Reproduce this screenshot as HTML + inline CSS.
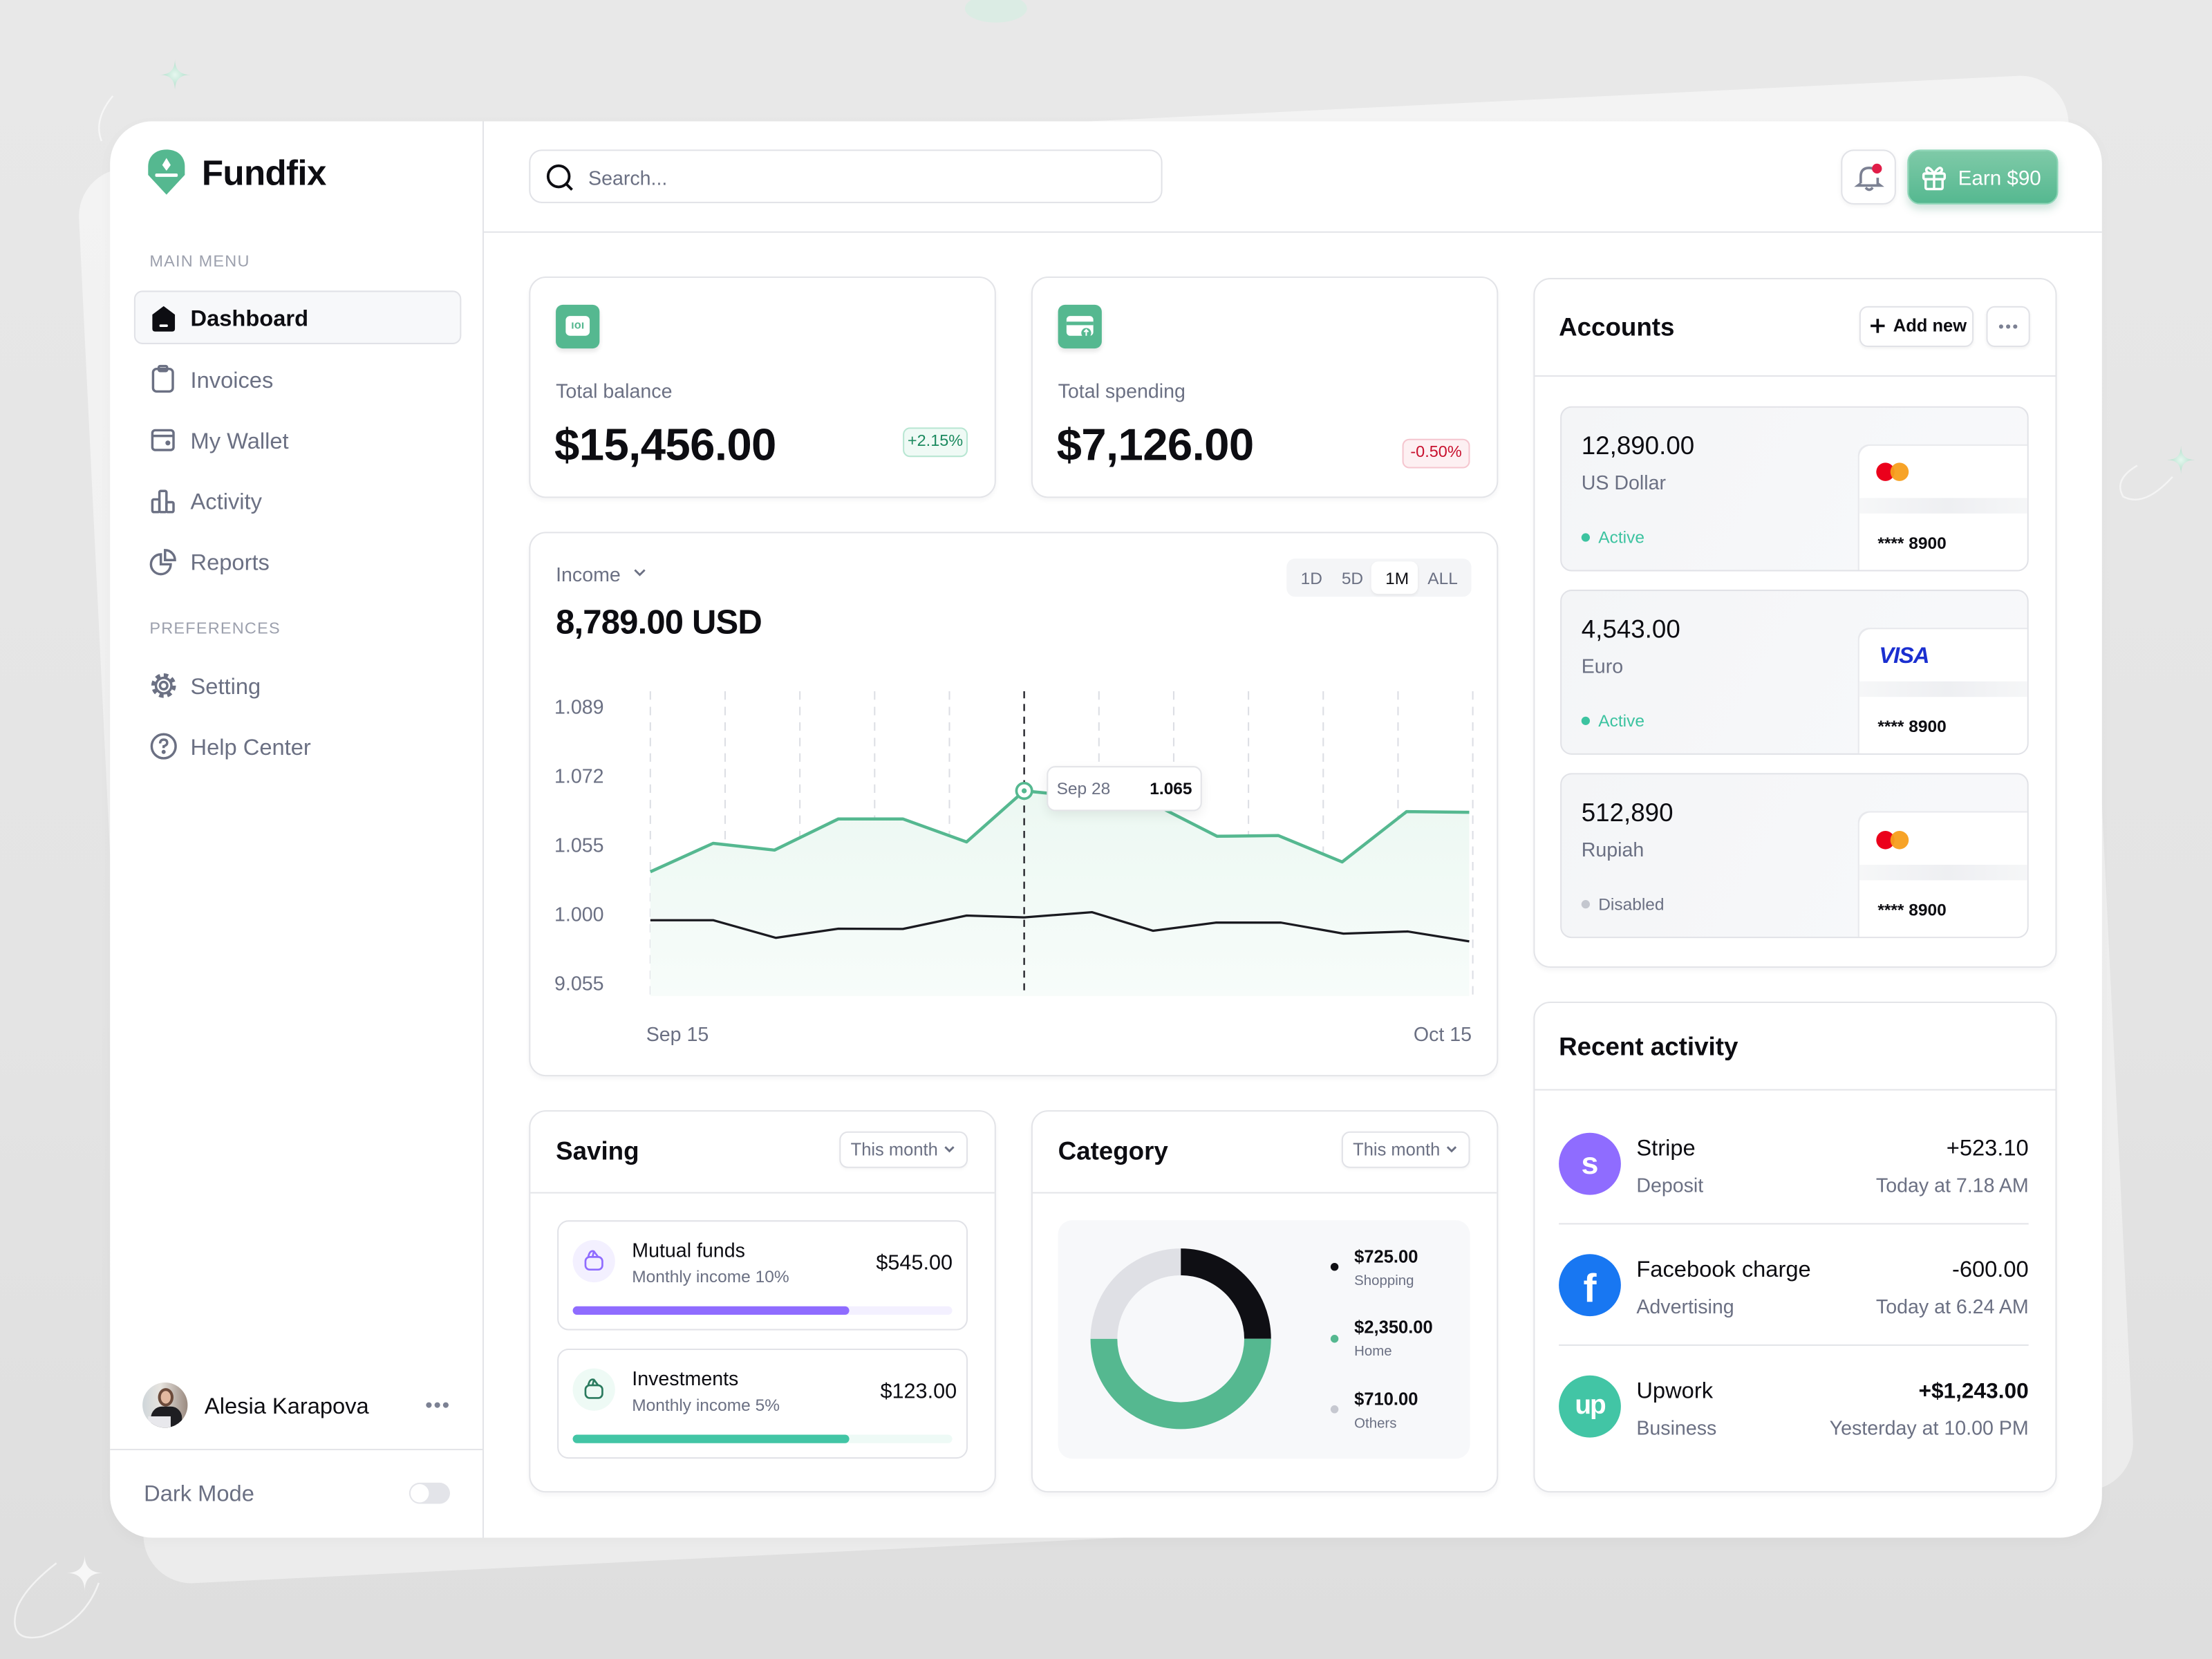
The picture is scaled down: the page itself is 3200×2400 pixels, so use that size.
<!DOCTYPE html>
<html><head><meta charset="utf-8">
<style>
html,body{margin:0;padding:0;width:3200px;height:2400px;overflow:hidden;background:linear-gradient(180deg,#e8e8e8 0%,#e4e4e4 60%,#dedede 100%);}
#w{position:absolute;left:0;top:0;width:1568px;height:1176px;transform:scale(2.040816);transform-origin:0 0;font-family:"Liberation Sans",Arial,sans-serif;color:#0d0d12;}
.a{position:absolute;}
.t{position:absolute;white-space:nowrap;line-height:1;}
.g{color:#6b7083;}
.card{position:absolute;background:#fff;border:1px solid #e3e4e8;border-radius:12px;box-sizing:border-box;box-shadow:0 2px 3px rgba(20,20,40,.04);}
.b{font-weight:bold;}
.dot{position:absolute;width:3px;height:3px;border-radius:50%;background:#7c8193;}
</style></head><body>
<div id="w">
<!-- back card -->
<div class="a" style="left:78px;top:86px;width:1412px;height:1004px;border-radius:34px;background:linear-gradient(180deg,#f3f3f3 0%,#ececec 100%);transform:rotate(-2.8deg);"></div>
<!-- decorations -->
<svg class="a" style="left:0;top:0" width="1568" height="1176">
 <defs><radialGradient id="sp" cx="50%" cy="50%" r="50%"><stop offset="0" stop-color="#e6f7ef"/><stop offset="1" stop-color="#a9dcc6"/></radialGradient></defs>
 <path d="M124 42 Q124 53 135 53 Q124 53 124 64 Q124 53 113 53 Q124 53 124 42Z" fill="url(#sp)"/>
 <path d="M80 68 Q66 85 72 100" stroke="#f6f6f6" stroke-width="1.2" fill="none"/>
 <path d="M1546 316 Q1546 326 1556 326 Q1546 326 1546 336 Q1546 326 1536 326 Q1546 326 1546 316Z" fill="url(#sp)"/>
 <path d="M1540 338 Q1520 360 1505 352 Q1498 340 1515 330" stroke="#f4f4f4" stroke-width="1.2" fill="none"/>
 <path d="M60 1102 Q60 1115 73 1115 Q60 1115 60 1128 Q60 1115 47 1115 Q60 1115 60 1102Z" fill="#f7f7f7"/>
 <path d="M70 1122 Q60 1150 30 1160 Q5 1165 12 1140 Q18 1125 40 1108" stroke="#f3f3f3" stroke-width="1.2" fill="none"/>
 <ellipse cx="706" cy="6" rx="22" ry="10" fill="#d6eee3" opacity=".7"/>
</svg>
<!-- main card -->
<div class="a" style="left:78px;top:86px;width:1412px;height:1004px;background:#fff;border-radius:30px;box-shadow:0 3px 10px rgba(0,0,0,.03);"></div>
<div class="a" style="left:342px;top:86px;width:1px;height:1004px;background:#e3e4e8"></div>
<div class="a" style="left:343px;top:164px;width:1147px;height:1px;background:#e3e4e8"></div>
<div class="a" style="left:78px;top:1027px;width:264px;height:1px;background:#e3e4e8"></div>

<!-- logo -->
<svg class="a" style="left:101px;top:104px" width="34" height="36" viewBox="0 0 34 36">
 <path d="M17 2 C9 2 4 7 4 14 L4 20 L17 34 L30 20 L30 14 C30 7 25 2 17 2Z" fill="#55b890"/>
 <path d="M17 8 L20 13 L17 17 L14 13Z" fill="#fff"/>
 <rect x="9" y="19" width="16" height="2.4" rx="1" fill="#fff"/>
</svg>
<div class="t b" style="left:143px;top:111px;font-size:25px;letter-spacing:-0.3px">Fundfix</div>

<div class="t" style="left:106px;top:181px;font-size:11.5px;color:#9ca0ad;letter-spacing:.6px">MAIN MENU</div>
<div class="a" style="left:95px;top:206px;width:232px;height:38px;box-sizing:border-box;background:#f7f8fa;border:1px solid #e1e2e7;border-radius:6px"></div>
<svg class="a" style="left:106px;top:216px" width="20" height="20" viewBox="0 0 20 20"><path d="M10 1 L18 7 L18 17 Q18 19 16 19 L4 19 Q2 19 2 17 L2 7Z" fill="#0d0d12"/><rect x="7" y="14" width="6" height="1.8" rx=".8" fill="#fff"/></svg>
<div class="t b" style="left:135px;top:219px;font-size:16px">Dashboard</div>

<svg class="a" style="left:106px;top:258px" width="20" height="22" viewBox="0 0 20 22" fill="none" stroke="#6b7083" stroke-width="1.7"><rect x="2.5" y="3.5" width="14" height="16" rx="2.5"/><rect x="6.5" y="1.5" width="6" height="3.5" rx="1"/></svg>
<div class="t g" style="left:135px;top:263px;font-size:16px">Invoices</div>
<svg class="a" style="left:106px;top:302px" width="20" height="20" viewBox="0 0 20 20" fill="none" stroke="#6b7083" stroke-width="1.7"><rect x="2" y="3" width="15" height="14" rx="2"/><path d="M2 7 H17"/><circle cx="13" cy="12" r=".9" fill="#6b7083"/></svg>
<div class="t g" style="left:135px;top:306px;font-size:16px">My Wallet</div>
<svg class="a" style="left:106px;top:345px" width="20" height="20" viewBox="0 0 20 20" fill="none" stroke="#6b7083" stroke-width="1.7"><rect x="2" y="9" width="5" height="9" rx="1"/><rect x="7" y="3" width="5" height="15" rx="1"/><rect x="12" y="11" width="5" height="7" rx="1"/></svg>
<div class="t g" style="left:135px;top:349px;font-size:16px">Activity</div>
<svg class="a" style="left:105px;top:388px" width="22" height="20" viewBox="0 0 22 20" fill="none" stroke="#6b7083" stroke-width="1.7"><path d="M9 5 A7 7 0 1 0 16 12 L9 12Z"/><path d="M12 2 A7 7 0 0 1 19 9 L12 9Z"/></svg>
<div class="t g" style="left:135px;top:392px;font-size:16px">Reports</div>

<div class="t" style="left:106px;top:441px;font-size:11.5px;color:#9ca0ad;letter-spacing:.6px">PREFERENCES</div>
<svg class="a" style="left:105px;top:475px" width="22" height="22" viewBox="0 0 22 22" fill="none" stroke="#6b7083" stroke-width="1.7"><circle cx="11" cy="11" r="7" stroke-dasharray="3 2.5" stroke-width="3.5"/><circle cx="11" cy="11" r="5.5"/><circle cx="11" cy="11" r="2.6"/></svg>
<div class="t g" style="left:135px;top:480px;font-size:16px">Setting</div>
<svg class="a" style="left:105px;top:518px" width="22" height="22" viewBox="0 0 22 22" fill="none" stroke="#6b7083" stroke-width="1.7"><circle cx="11" cy="11" r="8.5"/><path d="M8.5 9 Q8.5 6.3 11 6.3 Q13.5 6.3 13.5 8.6 Q13.5 10.2 11 11 L11 12.3"/><circle cx="11" cy="15" r=".6" fill="#6b7083"/></svg>
<div class="t g" style="left:135px;top:523px;font-size:16px">Help Center</div>

<!-- user -->
<div class="a" style="left:101px;top:980px;width:32px;height:32px;border-radius:50%;overflow:hidden;background:linear-gradient(90deg,#cfd6da 0%,#e7e4df 40%,#9a8a80 100%)">
 <div class="a" style="left:11px;top:4px;width:11px;height:13px;border-radius:50%;background:#6b4a3a"></div>
 <div class="a" style="left:13px;top:6px;width:7px;height:9px;border-radius:50%;background:#e2b9a0"></div>
 <div class="a" style="left:6px;top:17px;width:22px;height:18px;border-radius:8px 8px 0 0;background:#1e1e22"></div>
 <div class="a" style="left:4px;top:24px;width:16px;height:10px;background:#e8e8ec"></div>
</div>
<div class="t" style="left:145px;top:990px;font-size:16px">Alesia Karapova</div>
<div class="dot" style="left:302px;top:994px;width:4px;height:4px"></div>
<div class="dot" style="left:308px;top:994px;width:4px;height:4px"></div>
<div class="dot" style="left:314px;top:994px;width:4px;height:4px"></div>
<div class="t g" style="left:102px;top:1052px;font-size:16px">Dark Mode</div>
<div class="a" style="left:290px;top:1051px;width:29px;height:15px;border-radius:8px;background:#e3e4e9"></div>
<div class="a" style="left:291px;top:1052px;width:13px;height:13px;border-radius:50%;background:#fff"></div>

<!-- header -->
<div class="a" style="left:375px;top:106px;width:449px;height:38px;box-sizing:border-box;border:1px solid #e1e2e7;border-radius:9px"></div>
<svg class="a" style="left:386px;top:115px" width="22" height="22" viewBox="0 0 22 22" fill="none" stroke="#0d0d12" stroke-width="1.9"><circle cx="10" cy="10" r="7.5"/><path d="M15.5 15.5 L19.5 19.5"/></svg>
<div class="t g" style="left:417px;top:119px;font-size:14px">Search...</div>

<div class="a" style="left:1305px;top:106px;width:39px;height:39px;box-sizing:border-box;border:1px solid #e1e2e7;border-radius:9px;box-shadow:0 1px 3px rgba(0,0,0,.05)"></div>
<svg class="a" style="left:1313px;top:114px" width="24" height="24" viewBox="0 0 24 24" fill="none" stroke="#7c8193" stroke-width="1.8"><path d="M6 16 L6 11 Q6 5 12 5 Q15 5 16.5 7"/><path d="M18 12 L18 16 L20 17.5 L4 17.5 L6 16"/><path d="M9.5 19 Q12 22 14.5 19"/></svg>
<div class="a" style="left:1327px;top:116px;width:7px;height:7px;border-radius:50%;background:#e11d48"></div>
<div class="a" style="left:1352px;top:106px;width:107px;height:39px;box-sizing:border-box;border-radius:9px;background:linear-gradient(180deg,#7fcaa8,#55b890);border:1px solid #8fd6b8;box-shadow:0 3px 6px rgba(60,140,110,.25)"></div>
<svg class="a" style="left:1361px;top:116px" width="20" height="20" viewBox="0 0 20 20" fill="none" stroke="#fff" stroke-width="1.7"><rect x="2.5" y="7" width="15" height="4" rx="1"/><rect x="4" y="11" width="12" height="7" rx="1"/><path d="M10 7 V18"/><path d="M10 7 Q6 1 4.5 4 Q4 7 10 7 Q16 7 15.5 4 Q14 1 10 7"/></svg>
<div class="t" style="left:1388px;top:120px;font-size:14.5px;color:#fff">Earn $90</div>

<!-- total balance -->
<div class="card" style="left:375px;top:196px;width:331px;height:157px"></div>
<div class="a" style="left:394px;top:216px;width:31px;height:31px;border-radius:5px;background:#55b890;box-shadow:0 2px 3px rgba(0,0,0,.1)"></div>
<div class="a" style="left:401px;top:224px;width:17px;height:14px;border-radius:3px;background:#fff;font-size:8px;line-height:14px;text-align:center;color:#55b890;font-weight:bold">ıoı</div>
<div class="t g" style="left:394px;top:270px;font-size:14px">Total balance</div>
<div class="t b" style="left:393px;top:299px;font-size:32px;letter-spacing:-0.3px">$15,456.00</div>
<div class="a" style="left:640px;top:303px;width:46px;height:21px;box-sizing:border-box;background:#effaf5;border:1px solid #b7e6d2;border-radius:5px;font-size:11.5px;line-height:19px;text-align:center;color:#1c8a5f">+2.15%</div>

<div class="card" style="left:731px;top:196px;width:331px;height:157px"></div>
<div class="a" style="left:750px;top:216px;width:31px;height:31px;border-radius:5px;background:#55b890;box-shadow:0 2px 3px rgba(0,0,0,.1)"></div>
<svg class="a" style="left:755px;top:222px" width="21" height="19" viewBox="0 0 21 19"><rect x="1" y="2" width="19" height="14" rx="2.5" fill="#fff"/><rect x="1" y="6" width="19" height="2.5" fill="#55b890"/><circle cx="15" cy="14" r="3.5" fill="#55b890"/><path d="M15 16 V12 M13.5 13.3 L15 11.8 L16.5 13.3" stroke="#fff" stroke-width="1" fill="none"/></svg>
<div class="t g" style="left:750px;top:270px;font-size:14px">Total spending</div>
<div class="t b" style="left:749px;top:299px;font-size:32px;letter-spacing:-0.3px">$7,126.00</div>
<div class="a" style="left:994px;top:311px;width:48px;height:21px;box-sizing:border-box;background:#fdf0f2;border:1px solid #f5c6cf;border-radius:5px;font-size:11.5px;line-height:19px;text-align:center;color:#c8102e">-0.50%</div>

<!-- income chart -->
<div class="card" style="left:375px;top:377px;width:687px;height:386px"></div>
<div class="t g" style="left:394px;top:400px;font-size:14px">Income</div>
<svg class="a" style="left:448px;top:401px" width="11" height="9" viewBox="0 0 11 9" fill="none" stroke="#6b7083" stroke-width="1.4"><path d="M2 3 L5.5 6.5 L9 3"/></svg>
<div class="t b" style="left:394px;top:430px;font-size:24px;letter-spacing:-0.4px">8,789.00 USD</div>
<div class="a" style="left:912px;top:396px;width:131px;height:27px;background:#f4f5f7;border-radius:6px"></div>
<div class="a" style="left:972px;top:398px;width:33px;height:23px;background:#fff;border-radius:5px;box-shadow:0 1px 2px rgba(0,0,0,.06)"></div>
<div class="t g" style="left:922px;top:404px;font-size:12px">1D</div>
<div class="t g" style="left:951px;top:404px;font-size:12px">5D</div>
<div class="t" style="left:982px;top:404px;font-size:12px">1M</div>
<div class="t g" style="left:1012px;top:404px;font-size:12px">ALL</div>

<div class="t g" style="left:393px;top:494px;font-size:14px">1.089</div>
<div class="t g" style="left:393px;top:543px;font-size:14px">1.072</div>
<div class="t g" style="left:393px;top:592px;font-size:14px">1.055</div>
<div class="t g" style="left:393px;top:641px;font-size:14px">1.000</div>
<div class="t g" style="left:393px;top:690px;font-size:14px">9.055</div>
<div class="t g" style="left:458px;top:726px;font-size:14px">Sep 15</div>
<div class="t g" style="left:1002px;top:726px;font-size:14px">Oct 15</div>

<svg class="a" style="left:0;top:0" width="1568" height="1176">
 <g stroke="#dcdee4" stroke-width="1" stroke-dasharray="6 5">
  <path d="M461 490V706M514 490V706M567 490V706M620 490V706M673 490V706M779 490V706M832 490V706M885 490V706M938 490V706M991 490V706M1044 490V706"/>
 </g>
 <defs><linearGradient id="fg" x1="0" y1="0" x2="0" y2="1"><stop offset="0" stop-color="#ecf8f2"/><stop offset="1" stop-color="#f7fcfa"/></linearGradient></defs>
 <polygon fill="url(#fg)" points="461,618 505.5,597.8 549,602.6 594.3,580.5 640,580.5 685.2,596.8 726,560.6 771,565 816,569 862.7,592.8 906.2,592.3 951.4,611 997.1,575.3 1041.5,575.8 1041.5,706 461,706"/>
 <path d="M726 490V706" stroke="#2a2a30" stroke-width="1.2" stroke-dasharray="5 4"/>
 <polyline fill="none" stroke="#1a1a20" stroke-width="1.6" stroke-linejoin="round" points="461,652.3 505.5,652.3 549.9,664.8 594.3,658.3 640,658.5 685.2,649 726,650.3 774,646.6 817.4,659.8 861.8,654 908,654 952.3,661.8 998,660.3 1041.5,667.3"/>
 <polyline fill="none" stroke="#55b890" stroke-width="2.2" stroke-linejoin="round" points="461,618 505.5,597.8 549,602.6 594.3,580.5 640,580.5 685.2,596.8 726,560.6 771,565 816,569 862.7,592.8 906.2,592.3 951.4,611 997.1,575.3 1041.5,575.8"/>
 <circle cx="726" cy="560.6" r="5.5" fill="#fff" stroke="#55b890" stroke-width="1.8"/>
 <circle cx="726" cy="560.6" r="1.8" fill="#55b890"/>
</svg>
<div class="a" style="left:742px;top:543px;width:110px;height:32px;box-sizing:border-box;background:#fff;border:1px solid #e3e4e8;border-radius:6px;box-shadow:0 3px 8px rgba(0,0,0,.07)"></div>
<div class="t g" style="left:749px;top:553px;font-size:12px">Sep 28</div>
<div class="t b" style="left:815px;top:553px;font-size:12px">1.065</div>

<!-- saving -->
<div class="card" style="left:375px;top:787px;width:331px;height:271px"></div>
<div class="a" style="left:376px;top:845px;width:329px;height:1px;background:#e3e4e8"></div>
<div class="t b" style="left:394px;top:807px;font-size:18px">Saving</div>
<div class="a" style="left:595px;top:802px;width:91px;height:26px;box-sizing:border-box;border:1px solid #e1e2e7;border-radius:6px;box-shadow:0 1px 2px rgba(0,0,0,.04)"></div>
<div class="t g" style="left:603px;top:809px;font-size:12.5px">This month</div>
<svg class="a" style="left:668px;top:810px" width="10" height="9" viewBox="0 0 10 9" fill="none" stroke="#6b7083" stroke-width="1.4"><path d="M2 3 L5 6 L8 3"/></svg>

<div class="a" style="left:395px;top:865px;width:291px;height:78px;box-sizing:border-box;border:1px solid #e1e2e7;border-radius:8px"></div>
<div class="a" style="left:406px;top:879px;width:30px;height:30px;border-radius:50%;background:#f3f0ff"></div>
<svg class="a" style="left:413px;top:885px" width="16" height="17" viewBox="0 0 16 17" fill="none" stroke="#8f6cff" stroke-width="1.3"><rect x="2" y="6" width="12" height="9" rx="3"/><path d="M4 6 Q5 1 8 2 L11 6 M8 2 L7 6"/></svg>
<div class="t" style="left:448px;top:879px;font-size:14px">Mutual funds</div>
<div class="t g" style="left:448px;top:899px;font-size:12px">Monthly income 10%</div>
<div class="t" style="left:621px;top:888px;font-size:15px">$545.00</div>
<div class="a" style="left:406px;top:926px;width:269px;height:6px;border-radius:3px;background:#f3f0ff"></div>
<div class="a" style="left:406px;top:926px;width:196px;height:6px;border-radius:3px;background:#8f6cff"></div>

<div class="a" style="left:395px;top:956px;width:291px;height:78px;box-sizing:border-box;border:1px solid #e1e2e7;border-radius:8px"></div>
<div class="a" style="left:406px;top:970px;width:30px;height:30px;border-radius:50%;background:#eefaf5"></div>
<svg class="a" style="left:413px;top:976px" width="16" height="17" viewBox="0 0 16 17" fill="none" stroke="#2a7a5e" stroke-width="1.3"><rect x="2" y="6" width="12" height="9" rx="3"/><path d="M4 6 Q5 1 8 2 L11 6 M8 2 L7 6"/></svg>
<div class="t" style="left:448px;top:970px;font-size:14px">Investments</div>
<div class="t g" style="left:448px;top:990px;font-size:12px">Monthly income 5%</div>
<div class="t" style="left:624px;top:979px;font-size:15px">$123.00</div>
<div class="a" style="left:406px;top:1017px;width:269px;height:6px;border-radius:3px;background:#eefaf6"></div>
<div class="a" style="left:406px;top:1017px;width:196px;height:6px;border-radius:3px;background:#42c5a5"></div>

<!-- category -->
<div class="card" style="left:731px;top:787px;width:331px;height:271px"></div>
<div class="a" style="left:732px;top:845px;width:329px;height:1px;background:#e3e4e8"></div>
<div class="t b" style="left:750px;top:807px;font-size:18px">Category</div>
<div class="a" style="left:951px;top:802px;width:91px;height:26px;box-sizing:border-box;border:1px solid #e1e2e7;border-radius:6px;box-shadow:0 1px 2px rgba(0,0,0,.04)"></div>
<div class="t g" style="left:959px;top:809px;font-size:12.5px">This month</div>
<svg class="a" style="left:1024px;top:810px" width="10" height="9" viewBox="0 0 10 9" fill="none" stroke="#6b7083" stroke-width="1.4"><path d="M2 3 L5 6 L8 3"/></svg>
<div class="a" style="left:750px;top:865px;width:292px;height:169px;background:#f7f8fa;border-radius:10px"></div>
<svg class="a" style="left:0;top:0" width="1568" height="1176">
 <path d="M837 885 A64 64 0 0 1 901 949 L882 949 A45 45 0 0 0 837 904Z" fill="#0f0f14"/>
 <path d="M901 949 A64 64 0 0 1 773 949 L792 949 A45 45 0 0 0 882 949Z" fill="#55b890"/>
 <path d="M773 949 A64 64 0 0 1 837 885 L837 904 A45 45 0 0 0 792 949Z" fill="#dfe0e5"/>
 <circle cx="946" cy="898" r="2.8" fill="#0f0f14"/>
 <circle cx="946" cy="949" r="2.8" fill="#55b890"/>
 <circle cx="946" cy="999" r="2.8" fill="#c6c8d0"/>
</svg>
<div class="t b" style="left:960px;top:885px;font-size:12.5px">$725.00</div>
<div class="t g" style="left:960px;top:904px;font-size:10px">Shopping</div>
<div class="t b" style="left:960px;top:935px;font-size:12.5px">$2,350.00</div>
<div class="t g" style="left:960px;top:954px;font-size:10px">Home</div>
<div class="t b" style="left:960px;top:986px;font-size:12.5px">$710.00</div>
<div class="t g" style="left:960px;top:1005px;font-size:10px">Others</div>

<!-- accounts -->
<div class="card" style="left:1087px;top:197px;width:371px;height:489px"></div>
<div class="a" style="left:1088px;top:266px;width:369px;height:1px;background:#e3e4e8"></div>
<div class="t b" style="left:1105px;top:223px;font-size:18px">Accounts</div>
<div class="a" style="left:1318px;top:217px;width:81px;height:29px;box-sizing:border-box;border:1px solid #e1e2e7;border-radius:6px;box-shadow:0 1px 2px rgba(0,0,0,.05)"></div>
<svg class="a" style="left:1324px;top:224px" width="14" height="14" viewBox="0 0 14 14" stroke="#0d0d12" stroke-width="1.8"><path d="M7 2V12M2 7H12"/></svg>
<div class="t b" style="left:1342px;top:225px;font-size:12.5px">Add new</div>
<div class="a" style="left:1408px;top:217px;width:31px;height:29px;box-sizing:border-box;border:1px solid #e1e2e7;border-radius:6px;box-shadow:0 1px 2px rgba(0,0,0,.05)"></div>
<div class="dot" style="left:1417px;top:230px"></div>
<div class="dot" style="left:1422px;top:230px"></div>
<div class="dot" style="left:1427px;top:230px"></div>

<!-- account item 1 -->
<div class="a" style="left:1106px;top:288px;width:332px;height:117px;box-sizing:border-box;background:linear-gradient(120deg,#f4f5f7,#f8f9fb);border:1px solid #e1e2e7;border-radius:8px;overflow:hidden">
 <div class="a" style="left:211px;top:27px;width:125px;height:95px;background:#fff;border-radius:8px 0 0 0;box-shadow:-1px -1px 0 #e8e9ed"></div>
 <div class="a" style="left:211px;top:64px;width:125px;height:11px;background:linear-gradient(90deg,#f6f7f8,#eeeff2,#f6f7f8)"></div>
</div>
<div class="t" style="left:1121px;top:307px;font-size:18px">12,890.00</div>
<div class="t g" style="left:1121px;top:335px;font-size:14px">US Dollar</div>
<div class="a" style="left:1121px;top:378px;width:6px;height:6px;border-radius:50%;background:#3cc3a0"></div>
<div class="t" style="left:1133px;top:375px;font-size:12px;color:#3cc3a0">Active</div>
<div class="a" style="left:1330px;top:328px;width:13px;height:13px;border-radius:50%;background:#eb001b"></div>
<div class="a" style="left:1340px;top:328px;width:13px;height:13px;border-radius:50%;background:rgba(247,158,27,.95)"></div>
<div class="t b" style="left:1331px;top:379px;font-size:12px">**** 8900</div>

<!-- account item 2 -->
<div class="a" style="left:1106px;top:418px;width:332px;height:117px;box-sizing:border-box;background:linear-gradient(120deg,#f4f5f7,#f8f9fb);border:1px solid #e1e2e7;border-radius:8px;overflow:hidden">
 <div class="a" style="left:211px;top:27px;width:125px;height:95px;background:#fff;border-radius:8px 0 0 0;box-shadow:-1px -1px 0 #e8e9ed"></div>
 <div class="a" style="left:211px;top:64px;width:125px;height:11px;background:linear-gradient(90deg,#f6f7f8,#eeeff2,#f6f7f8)"></div>
</div>
<div class="t" style="left:1121px;top:437px;font-size:18px">4,543.00</div>
<div class="t g" style="left:1121px;top:465px;font-size:14px">Euro</div>
<div class="a" style="left:1121px;top:508px;width:6px;height:6px;border-radius:50%;background:#3cc3a0"></div>
<div class="t" style="left:1133px;top:505px;font-size:12px;color:#3cc3a0">Active</div>
<div class="t b" style="left:1332px;top:458px;font-size:16px;font-style:italic;color:#1a2fd0;letter-spacing:-0.5px">VISA</div>
<div class="t b" style="left:1331px;top:509px;font-size:12px">**** 8900</div>

<!-- account item 3 -->
<div class="a" style="left:1106px;top:548px;width:332px;height:117px;box-sizing:border-box;background:linear-gradient(120deg,#f4f5f7,#f8f9fb);border:1px solid #e1e2e7;border-radius:8px;overflow:hidden">
 <div class="a" style="left:211px;top:27px;width:125px;height:95px;background:#fff;border-radius:8px 0 0 0;box-shadow:-1px -1px 0 #e8e9ed"></div>
 <div class="a" style="left:211px;top:64px;width:125px;height:11px;background:linear-gradient(90deg,#f6f7f8,#eeeff2,#f6f7f8)"></div>
</div>
<div class="t" style="left:1121px;top:567px;font-size:18px">512,890</div>
<div class="t g" style="left:1121px;top:595px;font-size:14px">Rupiah</div>
<div class="a" style="left:1121px;top:638px;width:6px;height:6px;border-radius:50%;background:#c4c7cf"></div>
<div class="t g" style="left:1133px;top:635px;font-size:12px">Disabled</div>
<div class="a" style="left:1330px;top:589px;width:13px;height:13px;border-radius:50%;background:#eb001b"></div>
<div class="a" style="left:1340px;top:589px;width:13px;height:13px;border-radius:50%;background:rgba(247,158,27,.95)"></div>
<div class="t b" style="left:1331px;top:639px;font-size:12px">**** 8900</div>

<!-- recent activity -->
<div class="card" style="left:1087px;top:710px;width:371px;height:348px"></div>
<div class="a" style="left:1088px;top:772px;width:369px;height:1px;background:#e3e4e8"></div>
<div class="t b" style="left:1105px;top:733px;font-size:18px">Recent activity</div>

<div class="a" style="left:1105px;top:803px;width:44px;height:44px;border-radius:50%;background:#8f6cff;color:#fff;font-weight:bold;font-size:22px;line-height:44px;text-align:center">s</div>
<div class="t" style="left:1160px;top:807px;font-size:16px">Stripe</div>
<div class="t g" style="left:1160px;top:833px;font-size:14px">Deposit</div>
<div class="t" style="right:130px;top:807px;font-size:16px">+523.10</div>
<div class="t g" style="right:130px;top:833px;font-size:14px">Today at 7.18 AM</div>
<div class="a" style="left:1105px;top:867px;width:333px;height:1px;background:#e3e4e8"></div>

<div class="a" style="left:1105px;top:889px;width:44px;height:44px;border-radius:50%;background:#1877f2;color:#fff;font-weight:bold;font-size:28px;line-height:50px;text-align:center">f</div>
<div class="t" style="left:1160px;top:893px;font-size:16px">Facebook charge</div>
<div class="t g" style="left:1160px;top:919px;font-size:14px">Advertising</div>
<div class="t" style="right:130px;top:893px;font-size:16px">-600.00</div>
<div class="t g" style="right:130px;top:919px;font-size:14px">Today at 6.24 AM</div>
<div class="a" style="left:1105px;top:953px;width:333px;height:1px;background:#e3e4e8"></div>

<div class="a" style="left:1105px;top:975px;width:44px;height:44px;border-radius:50%;background:#42c5a5;color:#fff;font-weight:bold;font-size:19px;line-height:44px;text-align:center;letter-spacing:-1px">up</div>
<div class="t" style="left:1160px;top:979px;font-size:16px">Upwork</div>
<div class="t g" style="left:1160px;top:1005px;font-size:14px">Business</div>
<div class="t b" style="right:130px;top:979px;font-size:15.5px">+$1,243.00</div>
<div class="t g" style="right:130px;top:1005px;font-size:14px">Yesterday at 10.00 PM</div>
</div>
</body></html>
